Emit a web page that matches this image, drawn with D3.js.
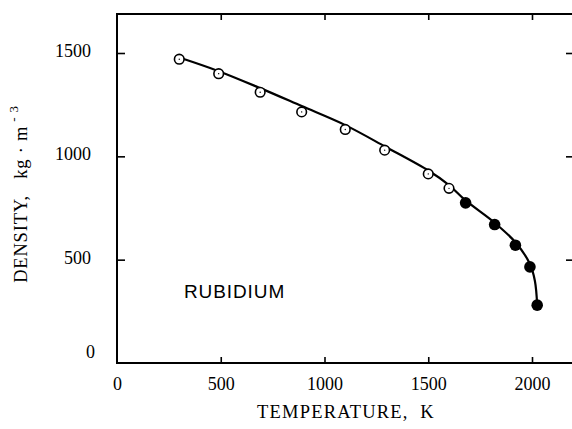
<!DOCTYPE html>
<html><head><meta charset="utf-8">
<script src="https://cdn.jsdelivr.net/npm/d3@7"></script>
<style>
html,body{margin:0;padding:0;background:#fff;}
svg{display:block;}
</style></head>
<body>
<script>
// Data
const openT   = [300, 490, 690, 890, 1100, 1290, 1500, 1600];
const openRho = [1470, 1400, 1310, 1215, 1130, 1030, 915, 845];
const filledT   = [1680, 1820, 1920, 1990, 2025];
const filledRho = [775, 670, 570, 465, 280];
const curveT   = [300, 490, 690, 890, 1100, 1296, 1504, 1600, 1677, 1822, 1923, 1990, 2014, 2025];
const curveRho = [1478, 1412, 1330, 1243, 1151, 1045, 929, 861, 789, 677, 581, 479, 397, 280];
const xTicks = [0, 500, 1000, 1500, 2000];
const yTicks = [0, 500, 1000, 1500];
const xTitle = "TEMPERATURE,  K";
const seriesLabel = "RUBIDIUM";

const W = 572, H = 429;
const svg = d3.select("body").append("svg").attr("width", W).attr("height", H);
const x = d3.scaleLinear().domain([0, 2000]).range([117, 532]);
const y = d3.scaleLinear().domain([0, 1500]).range([363, 53]);
const pL = 117, pR = 572, pT = 14, pB = 363;
const serif = "'Liberation Serif', 'DejaVu Serif', serif";

// frame lines
svg.append("line").attr("x1", pL).attr("x2", pL).attr("y1", pT - 1).attr("y2", pB + 1)
  .attr("stroke", "#000").attr("stroke-width", 2);
svg.append("line").attr("x1", pL - 1).attr("x2", pR).attr("y1", pB).attr("y2", pB)
  .attr("stroke", "#000").attr("stroke-width", 2);
svg.append("line").attr("x1", pL - 1).attr("x2", pR).attr("y1", pT).attr("y2", pT)
  .attr("stroke", "#000").attr("stroke-width", 2);

// bottom axis (ticks pointing up)
const xAxis = svg.append("g").attr("transform", `translate(0,${pB})`)
  .call(d3.axisBottom(x).tickValues(xTicks).tickSize(-6).tickPadding(14).tickFormat(d3.format("d")));
xAxis.select(".domain").remove();
xAxis.selectAll(".tick line").attr("stroke-width", 1.6);
xAxis.selectAll(".tick text").attr("font-family", serif).attr("font-size", 18).attr("fill", "#000");
xAxis.selectAll(".tick").filter(d => d === 0).select("line").remove();

// top ticks pointing down
const xTop = svg.append("g").attr("transform", `translate(0,${pT})`)
  .call(d3.axisTop(x).tickValues(xTicks.filter(d => d > 0)).tickSize(-6).tickFormat(""));
xTop.select(".domain").remove();
xTop.selectAll(".tick line").attr("stroke-width", 1.6);

// left axis (ticks pointing right)
const yAxis = svg.append("g").attr("transform", `translate(${pL},0)`)
  .call(d3.axisLeft(y).tickValues(yTicks).tickSize(-8).tickPadding(26).tickFormat(d3.format("d")));
yAxis.select(".domain").remove();
yAxis.selectAll(".tick line").attr("stroke-width", 1.6);
yAxis.selectAll(".tick text").attr("font-family", serif).attr("font-size", 18).attr("fill", "#000")
  .attr("dy", "0.2em");
yAxis.selectAll(".tick").filter(d => d === 0).select("line").remove();
yAxis.selectAll(".tick").filter(d => d === 0).select("text").attr("dy", "-0.3em").attr("x", -22);

// right ticks pointing left
const yRight = svg.append("g").attr("transform", `translate(${pR},0)`)
  .call(d3.axisRight(y).tickValues(yTicks.filter(d => d > 0)).tickSize(-6).tickFormat(""));
yRight.select(".domain").remove();
yRight.selectAll(".tick line").attr("stroke-width", 1.6);

// axis titles
svg.append("text").attr("x", 346).attr("y", 418).attr("text-anchor", "middle")
  .attr("font-family", serif).attr("font-size", 18.5).attr("letter-spacing", 1.2)
  .style("white-space", "pre").text(xTitle);

const yt = svg.append("text").attr("transform", "translate(27,194) rotate(-90)")
  .attr("text-anchor", "middle").attr("font-family", serif).attr("font-size", 18.5)
  .attr("letter-spacing", 0.8).style("white-space", "pre");
yt.append("tspan").text("DENSITY,   kg \u00B7 m");
yt.append("tspan").attr("dy", -9).attr("font-size", 13).text(" - 3");

// series label
svg.append("text").attr("x", 184).attr("y", 298)
  .attr("font-family", "'Liberation Sans', Arial, sans-serif").attr("font-size", 19)
  .attr("letter-spacing", 0.9).text(seriesLabel);

// curve
const curvePts = curveT.map((t, i) => [t, curveRho[i]]);
svg.append("path").datum(curvePts)
  .attr("d", d3.line().x(d => x(d[0])).y(d => y(d[1])).curve(d3.curveCatmullRom.alpha(0.5)))
  .attr("fill", "none").attr("stroke", "#000").attr("stroke-width", 2.2);

// open points
const openPts = openT.map((t, i) => [t, openRho[i]]);
svg.append("g").selectAll("circle").data(openPts).join("circle")
  .attr("cx", d => x(d[0])).attr("cy", d => y(d[1])).attr("r", 4.8)
  .attr("fill", "#fff").attr("stroke", "#000").attr("stroke-width", 1.6);
svg.append("g").selectAll("circle").data(openPts).join("circle")
  .attr("cx", d => x(d[0])).attr("cy", d => y(d[1])).attr("r", 0.7).attr("fill", "#000");

// filled points
const filledPts = filledT.map((t, i) => [t, filledRho[i]]);
svg.append("g").selectAll("circle").data(filledPts).join("circle")
  .attr("cx", d => x(d[0])).attr("cy", d => y(d[1])).attr("r", 5.8).attr("fill", "#000");
</script>
</body></html>
